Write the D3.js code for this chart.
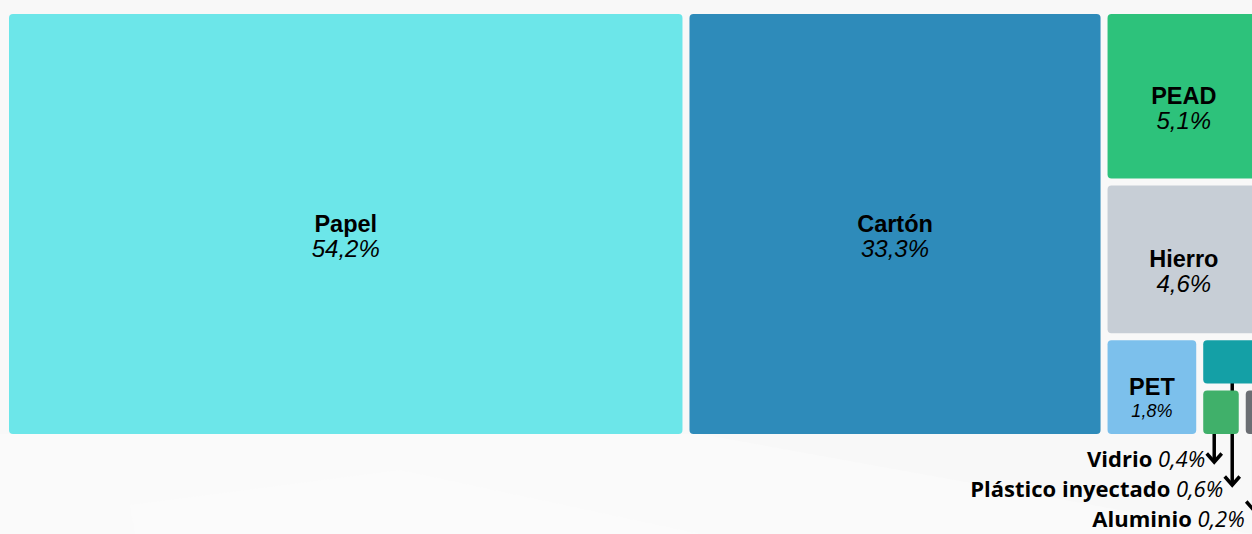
<!DOCTYPE html>
<html>
<head>
<meta charset="utf-8">
<script src="https://cdn.jsdelivr.net/npm/d3@7"></script>
<style>
  html, body { margin: 0; padding: 0; background: #f9f9f9; overflow: hidden; }
  svg { display: block; }
</style>
</head>
<body>
<svg id="chart" width="1252" height="534"></svg>
<script>
// ---- data ----
const categories = ["Papel", "Cartón", "PEAD", "Hierro", "PET", "Plástico inyectado", "Vidrio", "Aluminio"];
const values = [54.2, 33.3, 5.1, 4.6, 1.8, 0.6, 0.4, 0.2];
const colors = ["#6ce6e9", "#2e8bba", "#2dc27b", "#c7ced6", "#7cc0ec", "#14a0a6", "#40b06a", "#6b6e73"];
// small items annotated outside the treemap (in row order)
const calloutNames = ["Vidrio", "Plástico inyectado", "Aluminio"];

// ---- layout ----
const W = 1252, H = 534;
const margin = { left: 9, top: 14 };
const tmW = 1251, tmH = 420;

const locale = d3.formatLocale({ decimal: ",", thousands: ".", grouping: [3], currency: ["", "€"] });
const fmt = v => locale.format(".1f")(v) + "%";

const svg = d3.select("#chart");

// faint background shapes
const bg = svg.append("g");
bg.append("rect").attr("width", W).attr("height", H).attr("fill", "#f8f8f8");
bg.append("polygon").attr("points", "0,434 700,434 1252,534 0,534").attr("fill", "#fafafa");
bg.append("polygon").attr("points", "130,505 400,470 700,534 135,534").attr("fill", "#fbfbfb");

const data = categories.map((c, i) => ({ name: c, value: values[i], color: colors[i] }));
const root = d3.hierarchy({ children: data }).sum(d => d.value || 0)
  .sort((a, b) => b.value - a.value);

d3.treemap()
  .tile(d3.treemapSquarify.ratio(1))
  .size([tmW, tmH])
  .paddingInner(7)(root);

const g = svg.append("g").attr("transform", `translate(${margin.left},${margin.top})`);
const leaves = root.leaves();
const byName = new Map(leaves.map(l => [l.data.name, l]));

// callout geometry (relative offsets only)
const calloutSpec = {
  "Vidrio": { dx: 11, row: 0, tipGap: 5 },
  "Plástico inyectado": { dx: 29, row: 1, tipGap: 12 },
  "Aluminio": { dx: 8, row: 2, tipGap: 17 }
};
const rowBase = tmH + 33, rowStep = 30;

// arrows (drawn beneath rectangles)
const arrows = g.append("g").attr("fill", "none").attr("stroke", "#000")
  .attr("stroke-width", 3.5).attr("stroke-linejoin", "miter");
calloutNames.forEach(n => {
  const l = byName.get(n), s = calloutSpec[n];
  const x = l.x0 + s.dx;
  const baseline = rowBase + s.row * rowStep;
  const tip = baseline - s.tipGap;
  arrows.append("line").attr("x1", x).attr("x2", x).attr("y1", l.y1 - 2).attr("y2", tip - 1);
  arrows.append("path").attr("d", `M${x - 7.5},${tip - 8.5} L${x},${tip} L${x + 7.5},${tip - 8.5}`);
});

// rectangles
g.selectAll("rect.cell").data(leaves).join("rect")
  .attr("class", "cell")
  .attr("x", d => d.x0).attr("y", d => d.y0)
  .attr("width", d => d.x1 - d.x0).attr("height", d => d.y1 - d.y0)
  .attr("rx", 4).attr("ry", 4)
  .attr("fill", d => d.data.color);

// inside labels
const inside = leaves.filter(d => !calloutNames.includes(d.data.name));
const lab = g.selectAll("g.lab").data(inside).join("g").attr("class", "lab")
  .attr("transform", d => `translate(${(d.x0 + d.x1) / 2},${(d.y0 + d.y1) / 2})`)
  .attr("font-family", "'Liberation Sans', Arial, sans-serif")
  .attr("text-anchor", "middle").attr("fill", "#000");
lab.append("text").attr("y", 7.5).attr("font-size", 23.5).attr("font-weight", "bold")
  .text(d => d.data.name);
lab.append("text")
  .attr("y", d => (d.x1 - d.x0) < 100 ? 29.5 : 33)
  .attr("font-size", d => (d.x1 - d.x0) < 100 ? 18 : 24)
  .attr("font-style", "italic")
  .text(d => fmt(d.data.value));

// outside labels
const out = g.append("g").attr("font-family", "'Open Sans', 'Noto Sans', sans-serif")
  .attr("font-size", 22).attr("text-anchor", "end").attr("fill", "#000");
calloutNames.forEach(n => {
  const l = byName.get(n), s = calloutSpec[n];
  const x = l.x0 + s.dx;
  const t = out.append("text").attr("x", x - 9).attr("y", rowBase + s.row * rowStep);
  t.append("tspan").attr("font-weight", "bold").text(n + " ");
  t.append("tspan").attr("font-style", "italic").text(fmt(l.data.value));
});
</script>
</body>
</html>
